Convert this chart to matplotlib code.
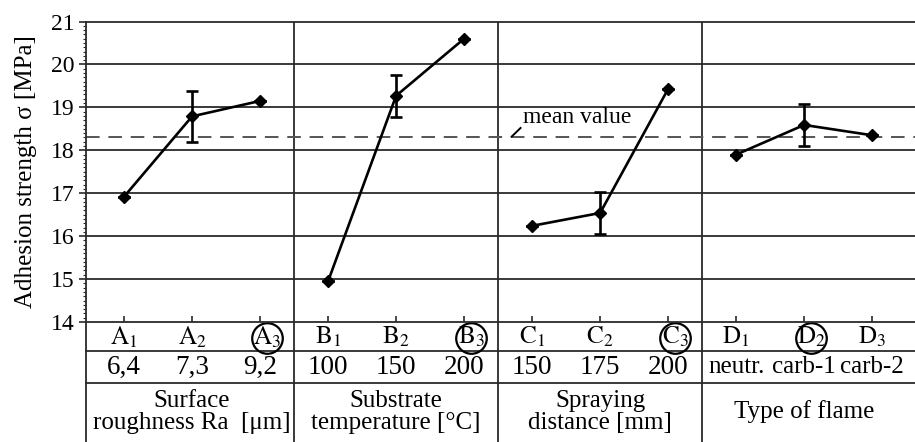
import numpy as np
import matplotlib
matplotlib.use("Agg")
import matplotlib.pyplot as plt
from matplotlib.transforms import blended_transform_factory
from matplotlib.ticker import MultipleLocator

plt.rcParams["font.family"] = ["Liberation Serif", "DejaVu Serif"]
plt.rcParams["mathtext.fontset"] = "stix"

# factor levels, mean adhesion strength and error half-widths
levels = [r"$\mathrm{A}_{1}$", r"$\mathrm{A}_{2}$", r"$\mathrm{A}_{3}$",
          r"$\mathrm{B}_{1}$", r"$\mathrm{B}_{2}$", r"$\mathrm{B}_{3}$",
          r"$\mathrm{C}_{1}$", r"$\mathrm{C}_{2}$", r"$\mathrm{C}_{3}$",
          r"$\mathrm{D}_{1}$", r"$\mathrm{D}_{2}$", r"$\mathrm{D}_{3}$"]
settings = ["6,4", "7,3", "9,2", "100", "150", "200",
            "150", "175", "200", "neutr.", "carb-1", "carb-2"]
strength = [16.92, 18.79, 19.15, 14.95, 19.27, 20.60,
            16.24, 16.54, 19.43, 17.90, 18.59, 18.35]
err = [0, 0.60, 0, 0, 0.49, 0, 0, 0.48, 0, 0, 0.48, 0]
optimum = [2, 5, 8, 10]
factor_names = ["Surface\nroughness Ra  [μm]", "Substrate\ntemperature [°C]",
                "Spraying\ndistance [mm]", "Type of flame"]
mean_value = 18.3

W, H = 915, 442
fig = plt.figure(figsize=(W / 100, H / 100), dpi=100)
ax = fig.add_axes([86 / W, 1 - 322 / H, 1 - 86 / W, (322 - 21.5) / H])
x = np.arange(len(strength))
x0, x1 = -0.56, 11.63
ax.set_xlim(x0, x1)
ax.set_ylim(14, 21)

gc = "#2a2a2a"
for yv in range(15, 21):
    ax.axhline(yv, color=gc, lw=1.3, zorder=1)
for xs in (2.5, 5.5, 8.5):
    ax.axvline(xs, color=gc, lw=1.3, zorder=1)
ax.axhline(mean_value, color="#555555", lw=1.4, dashes=(7, 4.5), zorder=2)

for k in range(4):
    s = slice(3 * k, 3 * k + 3)
    ax.plot(x[s], strength[s], color="black", lw=1.9, marker="D", ms=6.5, zorder=3)
    ax.errorbar(x[s], strength[s], yerr=err[s], fmt="none", ecolor="black",
                elinewidth=1.9, capsize=4, capthick=1.9, zorder=3)

# label for the dashed mean line with a short leader
ax.plot([5.70, 5.83], [18.32, 18.52], color="black", lw=1.4, zorder=3)
ax.text(5.86, 18.76, "mean value", fontsize=17, va="center", ha="left")

ax.spines["right"].set_visible(False)
for side in ("left", "top", "bottom"):
    ax.spines[side].set_color(gc)
    ax.spines[side].set_linewidth(1.3)

ax.yaxis.set_major_locator(MultipleLocator(1))
ax.yaxis.set_minor_locator(MultipleLocator(0.1))
ax.tick_params(axis="y", which="major", direction="out", length=5, width=1.2,
               labelsize=17, pad=3, colors=gc, labelcolor="black")
ax.tick_params(axis="y", which="minor", direction="out", length=2.5, width=0.8, colors=gc)
ax.set_xticks(x)
ax.set_xticklabels([])
ax.tick_params(axis="x", direction="in", length=4, width=1.2, colors=gc)
ax.set_ylabel("Adhesion strength σ [MPa]", fontsize=18, labelpad=10)

# table beneath the axes: x in data units, y in figure fraction
tr = blended_transform_factory(ax.transData, fig.transFigure)
for yp in (351, 383):
    ax.plot([x0, x1], [1 - yp / H] * 2, color=gc, lw=1.3, transform=tr, clip_on=False)
for xs in (x0, 2.5, 5.5, 8.5):
    ax.plot([xs, xs], [1 - 322 / H, 0], color=gc, lw=1.3, transform=tr, clip_on=False)

for i in x:
    dx = 0.1 if i in optimum else 0.0
    ax.text(i + dx, 1 - 337 / H, levels[i], transform=tr, ha="center", va="center",
            fontsize=18)
    numeric = settings[i][0].isdigit()
    ax.text(i, 1 - 367 / H, settings[i], transform=tr, ha="center", va="center",
            fontsize=19.5 if numeric else 18)
for i in optimum:
    ax.plot(i + 0.1, 1 - 338 / H, "o", mfc="none", mec="black", ms=22, mew=1.6,
            transform=tr, clip_on=False)
for k, name in enumerate(factor_names):
    ax.text(3 * k + 1, 1 - 412 / H, name, transform=tr, ha="center", va="center",
            fontsize=18, linespacing=0.95)

fig.savefig("out.png", dpi=100)
